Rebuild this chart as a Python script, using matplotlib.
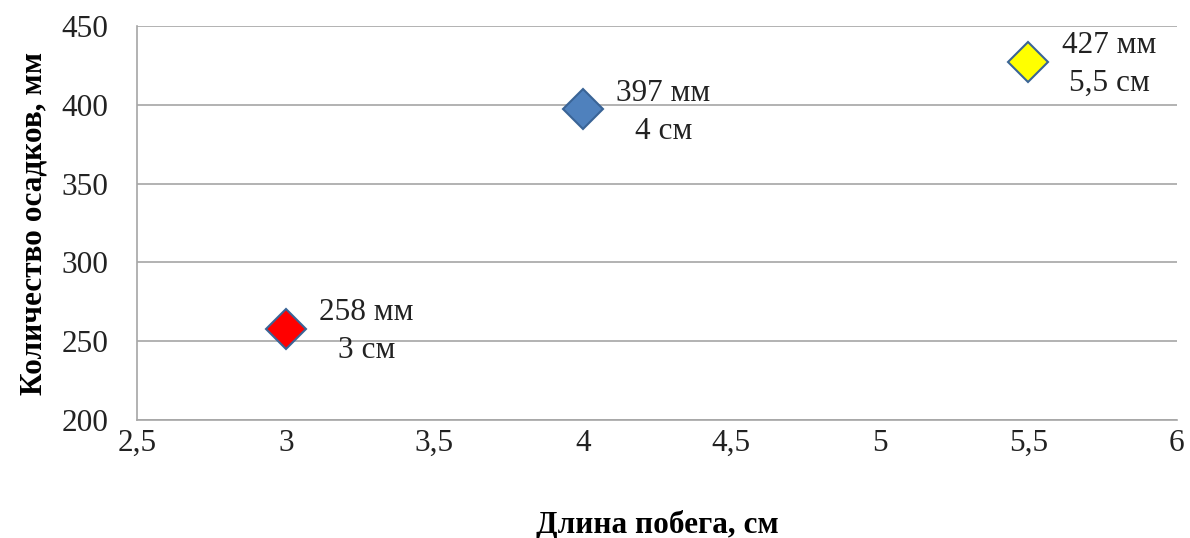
import matplotlib
matplotlib.use("Agg")
import matplotlib.pyplot as plt

# Shoot length (cm) vs. precipitation (mm)
shoot_len = [3, 4, 5.5]
precip = [258, 397, 427]
len_labels = ["3 см", "4 см", "5,5 см"]
point_colors = ["#FF0000", "#4F81BD", "#FFFF00"]
xticks = [2.5, 3, 3.5, 4, 4.5, 5, 5.5, 6]
xtick_labels = ["2,5", "3", "3,5", "4", "4,5", "5", "5,5", "6"]
yticks = [200, 250, 300, 350, 400, 450]

plt.rcParams["font.family"] = ["Liberation Serif", "DejaVu Serif"]

fig = plt.figure(figsize=(11.9, 5.38), dpi=100)
ax = fig.add_axes([0.1155, 0.219, 0.8735, 0.733])

ax.set_xlim(2.5, 6)
ax.set_ylim(200, 450)
ax.set_xticks(xticks)
ax.set_xticklabels(xtick_labels)
ax.set_yticks(yticks)

ax.yaxis.grid(True, color="#A6A6A6", linewidth=1.2)
ax.set_axisbelow(True)
for side in ("top", "right"):
    ax.spines[side].set_visible(False)
for side in ("left", "bottom"):
    ax.spines[side].set_color("#A6A6A6")
    ax.spines[side].set_linewidth(1.2)

ax.tick_params(axis="y", length=0, pad=21, labelsize=22.5, labelcolor="#222222")
ax.tick_params(axis="x", length=0, pad=6, labelsize=22.5, labelcolor="#222222")

for x, y, c, ll in zip(shoot_len, precip, point_colors, len_labels):
    ax.plot([x], [y], marker="D", markersize=20, color=c,
            markeredgecolor="#3A6496", markeredgewidth=1.5,
            linestyle="none", zorder=3)
    ax.annotate(f"{y} мм\n{ll}", xy=(x, y), xytext=(58, -2),
                textcoords="offset points", ha="center", va="center",
                fontsize=22.5, linespacing=1.4, color="#222222")

ax.set_xlabel("Длина побега, см", fontsize=22.5, fontweight="bold", labelpad=38)
ax.set_ylabel("Количество осадков, мм", fontsize=22.5, fontweight="bold", labelpad=9)

fig.savefig("out.png", dpi=100)
